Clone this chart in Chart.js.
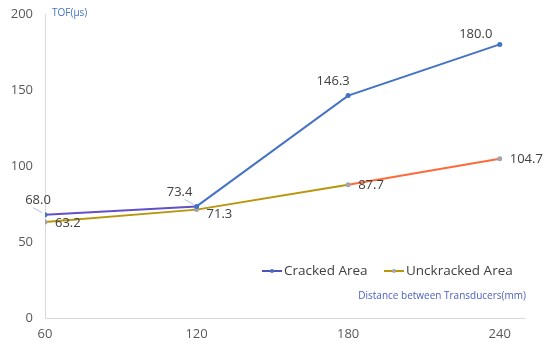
<!DOCTYPE html>
<html><head><meta charset="utf-8">
<script src="https://cdn.jsdelivr.net/npm/chart.js@4"></script>
<style>html,body{margin:0;padding:0;background:#fff}#c{display:block}</style>
</head><body>
<div style="width:550px;height:349px"><canvas id="c" width="550" height="349"></canvas></div>
<script>
const distances = [60, 120, 180, 240];
const xTicks = [60, 120, 180, 240];
const yTicks = [0, 50, 100, 150, 200];
const crackedTOF = [68.0, 73.4, 146.3, 180.0];
const uncrackedTOF = [63.2, 71.3, 87.7, 104.7];
const seriesNames = ['Cracked Area', 'Unckracked Area'];
const yTitle = 'TOF(µs)';
const xTitle = 'Distance between Transducers(mm)';

const FONT = '"Open Sans", "Noto Sans", "DejaVu Sans", sans-serif';

// label placement: [dx, dy, align]
const crackedLabelPos = [[-7,-14,'center'],[-17,-14,'center'],[-15,-14,'center'],[-24,-10,'center']];
const uncrackedLabelPos = [[10,1,'left'],[10,5,'left'],[10,1,'left'],[10,0,'left']];

const labelPlugin = {
  id: 'labels',
  afterDatasetsDraw(chart) {
    const ctx = chart.ctx;
    ctx.save();
    ctx.font = '13px ' + FONT;
    ctx.fillStyle = '#404040';
    ctx.textBaseline = 'middle';
    const sets = [[0, crackedLabelPos], [1, uncrackedLabelPos]];
    sets.forEach(([di, pos]) => {
      const meta = chart.getDatasetMeta(di);
      meta.data.forEach((pt, i) => {
        const v = chart.data.datasets[di].data[i].y;
        const [dx, dy, al] = pos[i];
        ctx.textAlign = al;
        ctx.fillText(v.toFixed(1), pt.x + dx, pt.y + dy);
      });
    });
    // leader lines
    ctx.strokeStyle = '#a9c4e8';
    ctx.lineWidth = 1;
    [[0,0],[0,1]].forEach(([di,i])=>{
      const pt = chart.getDatasetMeta(di).data[i];
      ctx.beginPath();
      ctx.moveTo(pt.x - 12, pt.y - 7);
      ctx.lineTo(pt.x - 3, pt.y - 2);
      ctx.stroke();
    });
    // axis titles
    ctx.font = '10px ' + FONT;
    ctx.fillStyle = '#4472C4';
    ctx.textAlign = 'left';
    ctx.fillText(yTitle, chart.chartArea.left + 7, 13);
    ctx.fillStyle = '#4a5fc0';
    ctx.textAlign = 'right';
    ctx.fillText(xTitle, 526, 296);
    // legend
    const items = [
      {x: 262, line: '#4f4fc0', dot: '#4472C4', text: seriesNames[0]},
      {x: 384, line: '#B8960C', dot: '#A5A5A5', text: seriesNames[1]}
    ];
    ctx.font = '13.5px ' + FONT;
    ctx.textAlign = 'left';
    items.forEach(it => {
      const y = 271;
      ctx.strokeStyle = it.line; ctx.lineWidth = 2;
      ctx.beginPath(); ctx.moveTo(it.x, y); ctx.lineTo(it.x + 20, y); ctx.stroke();
      ctx.fillStyle = it.dot;
      ctx.beginPath(); ctx.arc(it.x + 10, y, 2, 0, Math.PI*2); ctx.fill();
      ctx.fillStyle = '#404040';
      ctx.fillText(it.text, it.x + 22, y);
    });
    ctx.restore();
  }
};

new Chart(document.getElementById('c'), {
  type: 'line',
  data: {
    datasets: [
      {
        label: seriesNames[0],
        data: distances.map((d, i) => ({x: d, y: crackedTOF[i]})),
        borderColor: '#4472C4',
        backgroundColor: '#4472C4',
        pointBackgroundColor: '#4472C4',
        pointBorderColor: '#4472C4',
        borderWidth: 2,
        pointRadius: 2.5,
        pointBorderWidth: 0,
        segment: { borderColor: c => c.p0DataIndex === 0 ? '#6250c8' : '#4472C4' }
      },
      {
        label: seriesNames[1],
        data: distances.map((d, i) => ({x: d, y: uncrackedTOF[i]})),
        borderColor: '#B8960C',
        backgroundColor: '#A5A5A5',
        pointBackgroundColor: '#A5A5A5',
        pointBorderColor: '#A5A5A5',
        borderWidth: 2,
        pointRadius: 2.5,
        pointBorderWidth: 0,
        segment: { borderColor: c => c.p0DataIndex === 2 ? '#FF6A3A' : '#B8960C' }
      }
    ]
  },
  options: {
    responsive: false,
    animation: false,
    layout: { padding: { top: 14, right: 25, left: 0, bottom: 0 } },
    plugins: { legend: { display: false }, tooltip: { enabled: false } },
    scales: {
      x: {
        type: 'linear', min: 60, max: 250,
        afterBuildTicks: s => { s.ticks = xTicks.map(v => ({value: v})); },
        afterFit: s => { s.height = 31; s.paddingLeft = 0; s.paddingRight = 0; },
        grid: { color: 'rgba(0,0,0,0)', drawTicks: false },
        border: { display: true, color: '#d9d9d9', width: 1 },
        ticks: { padding: 8, color: '#595959', font: { size: 13, family: FONT }, maxRotation: 0 }
      },
      y: {
        min: 0, max: 200,
        afterBuildTicks: s => { s.ticks = yTicks.map(v => ({value: v})); },
        afterFit: s => { s.width = 45; s.paddingTop = 0; s.paddingBottom = 0; },
        grid: { color: 'rgba(0,0,0,0)', drawTicks: false },
        border: { display: true, color: '#d9d9d9', width: 1 },
        ticks: { padding: 12, color: '#595959', font: { size: 13, family: FONT } }
      }
    }
  },
  plugins: [labelPlugin]
});
</script>
</body></html>
